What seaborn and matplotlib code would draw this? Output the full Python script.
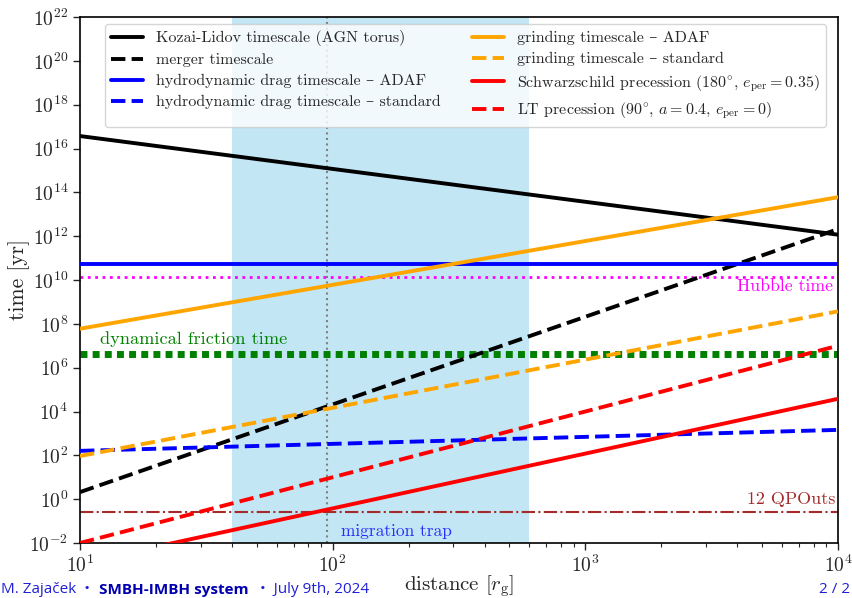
import matplotlib
matplotlib.use("Agg")
import matplotlib.pyplot as plt
from matplotlib.ticker import FixedLocator, LogLocator, NullLocator, LogFormatterMathtext
import seaborn as sns

# Orbital distance range (gravitational radii) and timescales at its ends (yr)
r_ends = [10, 1e4]
kozai_lidov = [3.7e16, 1.17e12]
merger = [2.1, 2.1e12]
drag_adaf = [5.3e10, 5.3e10]
drag_standard = [1.6e2, 1.45e3]
grinding_adaf = [6e7, 6e13]
grinding_standard = [93, 3.7e8]
schwarzschild = [1.2e-3, 3.8e4]
lense_thirring = [1e-2, 1e7]

# Reference levels and regions
hubble_time = 1.38e10
dyn_friction_time = 4e6
qpo_time = 0.26
trap_range = [40, 600]
r_marker = 95

y_ticks = [10.0 ** k for k in range(-2, 23, 2)]

sns.set_style("ticks")
plt.rcParams["font.family"] = ["cmr10", "DejaVu Serif"]
plt.rcParams["mathtext.fontset"] = "cm"
plt.rcParams["axes.formatter.use_mathtext"] = True
plt.rcParams["axes.unicode_minus"] = False

fig = plt.figure(figsize=(8.52, 5.98), dpi=100)
ax = fig.add_axes([80 / 852, 1 - 543 / 598, 758 / 852, 526 / 598])

ax.set_xscale("log")
ax.set_yscale("log")

ax.axvspan(trap_range[0], trap_range[1], color="skyblue", alpha=0.5, lw=0, zorder=0)
ax.axvline(r_marker, color="gray", ls=":", lw=1.5, zorder=1)

lw = 2.8
series = [
    (kozai_lidov, "black", "-", "Kozai-Lidov timescale (AGN torus)"),
    (merger, "black", "--", "merger timescale"),
    (drag_adaf, "blue", "-", "hydrodynamic drag timescale – ADAF"),
    (drag_standard, "blue", "--", "hydrodynamic drag timescale – standard"),
    (grinding_adaf, "orange", "-", "grinding timescale – ADAF"),
    (grinding_standard, "orange", "--", "grinding timescale – standard"),
    (schwarzschild, "red", "-", r"Schwarzschild precession (180$^{\circ}$, $e_{\rm per}=0.35$)"),
    (lense_thirring, "red", "--", r"LT precession (90$^{\circ}$, $a=0.4$, $e_{\rm per}=0$)"),
]
handles = []
for vals, col, ls, lab in series:
    sns.lineplot(x=r_ends, y=vals, ax=ax, color=col, linestyle=ls, lw=lw,
                 label=lab, legend=False, zorder=3)
    handles.append(ax.lines[-1])

ax.axhline(hubble_time, color="magenta", ls=":", lw=2, zorder=2)
ax.axhline(dyn_friction_time, color="green", ls=(0, (1, 0.75)), lw=5, zorder=2)
ax.axhline(qpo_time, color="brown", ls="-.", lw=1.5, zorder=2)

ax.text(12.0, 2.1e7, "dynamical friction time", color="green", fontsize=13.2,
        ha="left", va="center")
ax.text(0.994, 10 ** 9.72, "Hubble time", color="magenta", fontsize=12.8,
        ha="right", va="center", transform=ax.get_yaxis_transform())
ax.text(0.997, 10 ** 0.0, "12 QPOuts", color="brown", fontsize=13,
        ha="right", va="center", transform=ax.get_yaxis_transform())
ax.text(108, 10 ** -1.46, "migration trap", color="blue", fontsize=12.5,
        ha="left", va="center", alpha=0.8)

ax.set_xlim(10, 1e4)
ax.set_ylim(1e-2, 1e22)
ax.yaxis.set_major_locator(FixedLocator(y_ticks))
ax.yaxis.set_major_formatter(LogFormatterMathtext())
ax.yaxis.set_minor_locator(NullLocator())
ax.xaxis.set_major_locator(LogLocator(base=10))
ax.xaxis.set_minor_locator(LogLocator(base=10, subs=range(2, 10)))
ax.tick_params(axis="both", which="major", labelsize=14, length=5, width=1)
ax.tick_params(axis="x", which="minor", length=3, width=0.8)
for s in ax.spines.values():
    s.set_visible(True)
    s.set_linewidth(1.2)
    s.set_color("black")

ax.set_xlabel(r"distance [$r_{\rm g}$]", fontsize=15)
ax.set_ylabel("time [yr]", fontsize=15.5)
ax.yaxis.set_label_coords(-0.066, 0.5)
ax.xaxis.set_label_coords(0.5, -0.057)

leg = ax.legend(handles=handles, ncol=2, loc="upper center",
                bbox_to_anchor=((465.5 - 80) / 758, 1 - 7 / 526),
                borderaxespad=0, fontsize=11.5, columnspacing=2.0,
                handlelength=2.0, labelspacing=0.42, framealpha=0.8)

# Footer line of the presentation slide
fblue = "#1f1fd6"
fy = 0.002
fig.text(1 / 852, fy, "M. Zajaček  •", color=fblue, fontsize=11,
         family="Open Sans", ha="left", va="bottom")
fig.text(99 / 852, fy, "SMBH-IMBH system", color="#0000b0", fontsize=11,
         family="Open Sans", weight="bold", ha="left", va="bottom")
fig.text(260 / 852, fy, "•  July 9th, 2024", color=fblue, fontsize=11,
         family="Open Sans", ha="left", va="bottom")
fig.text(850 / 852, fy, "2 / 2", color=fblue, fontsize=11,
         family="Open Sans", ha="right", va="bottom")

fig.savefig("out.png", dpi=100)
